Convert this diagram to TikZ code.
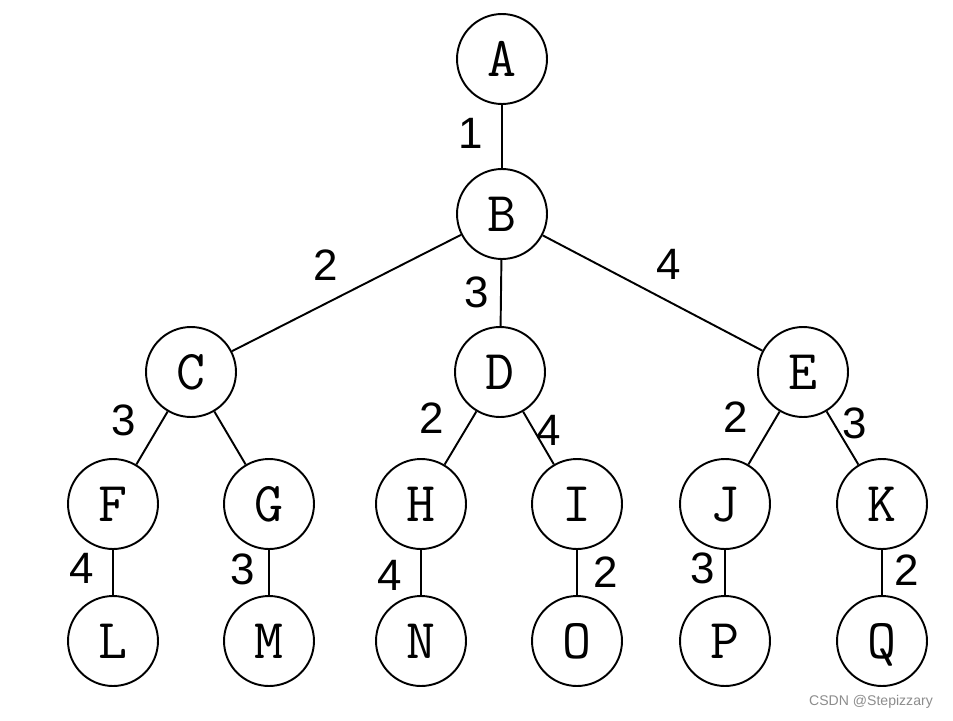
\documentclass[tikz,border=0pt]{standalone}
\usepackage{fontspec}
\newfontfamily\numfont{Liberation Sans}
\tikzset{
  vertex/.style={draw,circle,line width=1.1pt,minimum size=1.8cm,inner sep=0pt,
    text height=19.5pt,text depth=0pt,
    font=\ttfamily\fontsize{32}{32}\selectfont},
  weight/.style={inner sep=0pt,font=\numfont\fontsize{25}{25}\selectfont},
  branch/.style={line width=1.1pt}
}

\begin{document}
\begin{tikzpicture}[x=0.02cm,y=-0.02cm]
\useasboundingbox (0,0) rectangle (953,720);
\node[vertex] (A) at (502,59) {A};
\node[vertex] (B) at (502,214) {B};
\node[vertex] (C) at (191,372) {C};
\node[vertex] (D) at (500,372) {D};
\node[vertex] (E) at (803,372) {E};
\node[vertex] (F) at (113,504) {F};
\node[vertex] (G) at (269,504) {G};
\node[vertex] (H) at (421,504) {H};
\node[vertex] (I) at (577,504) {I};
\node[vertex] (J) at (725,504) {J};
\node[vertex] (K) at (882,504) {K};
\node[vertex] (L) at (113,641) {L};
\node[vertex] (M) at (269,641) {M};
\node[vertex] (N) at (421,641) {N};
\node[vertex] (O) at (577,641) {O};
\node[vertex] (P) at (725,641) {P};
\node[vertex] (Q) at (882,641) {Q};
\draw[branch] (A) -- (B);
\draw[branch] (B) -- (C);
\draw[branch] (B) -- (D);
\draw[branch] (B) -- (E);
\draw[branch] (C) -- (F);
\draw[branch] (C) -- (G);
\draw[branch] (D) -- (H);
\draw[branch] (D) -- (I);
\draw[branch] (E) -- (J);
\draw[branch] (E) -- (K);
\draw[branch] (F) -- (L);
\draw[branch] (G) -- (M);
\draw[branch] (H) -- (N);
\draw[branch] (I) -- (O);
\draw[branch] (J) -- (P);
\draw[branch] (K) -- (Q);
% edge weights
\node[weight] (wab) at (471,133) {1};
\node[weight] (wbc) at (326,265) {2};
\node[weight] (wbd) at (477,292) {3};
\node[weight] (wbe) at (669,264) {4};
\node[weight] (wcf) at (124,420) {3};
\node[weight] (wdh) at (432,418) {2};
\node[weight] (wdi) at (549,430) {4};
\node[weight] (wej) at (736,417) {2};
\node[weight] (wek) at (855,423) {3};
\node[weight] (wfl) at (82,568) {4};
\node[weight] (wgm) at (243,569) {3};
\node[weight] (whn) at (390,575) {4};
\node[weight] (wio) at (606,572) {2};
\node[weight] (wjp) at (703,568) {3};
\node[weight] (wkq) at (907,570) {2};
\node[font=\numfont\fontsize{8}{8}\selectfont,text=black!45] (mark) at (871,702) {CSDN @Stepizzary};
\end{tikzpicture}
\end{document}
